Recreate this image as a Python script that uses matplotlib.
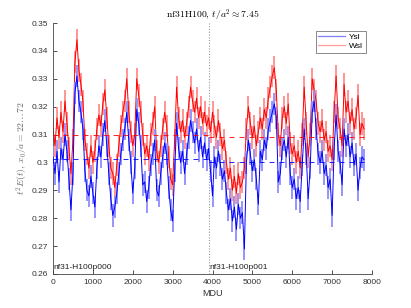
import matplotlib
matplotlib.use("Agg")
import matplotlib.pyplot as plt
import numpy as np

plt.rcParams['mathtext.fontset'] = 'cm'
plt.rcParams['font.family'] = ['Liberation Sans', 'DejaVu Sans']

mdu_step = 50
wsl = [0.312, 0.306, 0.316, 0.309, 0.318, 0.311, 0.322, 0.314, 0.305, 0.296,
       0.308, 0.336, 0.344, 0.333, 0.328, 0.322, 0.308, 0.303, 0.298, 0.306,
       0.300, 0.304, 0.312, 0.317, 0.313, 0.321, 0.326, 0.316, 0.306, 0.298,
       0.296, 0.291, 0.299, 0.306, 0.313, 0.318, 0.322, 0.330, 0.318, 0.311,
       0.306, 0.310, 0.330, 0.324, 0.318, 0.310, 0.303, 0.306, 0.301, 0.310,
       0.314, 0.320, 0.304, 0.300, 0.306, 0.312, 0.318, 0.313, 0.302, 0.294,
       0.292, 0.308, 0.327, 0.316, 0.311, 0.315, 0.309, 0.314, 0.320, 0.327,
       0.322, 0.318, 0.323, 0.316, 0.320, 0.314, 0.318, 0.313, 0.316, 0.311,
       0.318, 0.313, 0.309, 0.315, 0.310, 0.305, 0.308, 0.300, 0.294, 0.298,
       0.290, 0.295, 0.289, 0.296, 0.291, 0.293, 0.298, 0.312, 0.320, 0.314,
       0.309, 0.313, 0.306, 0.311, 0.316, 0.312, 0.319, 0.316, 0.323, 0.327,
       0.331, 0.334, 0.326, 0.310, 0.306, 0.316, 0.320, 0.314, 0.321, 0.307,
       0.303, 0.306, 0.300, 0.304, 0.298, 0.310, 0.327, 0.314, 0.302, 0.310,
       0.330, 0.326, 0.322, 0.314, 0.311, 0.315, 0.308, 0.311, 0.304, 0.306,
       0.301, 0.318, 0.331, 0.316, 0.312, 0.306, 0.328, 0.318, 0.322, 0.314,
       0.319, 0.312, 0.316, 0.324, 0.310, 0.314, 0.312]
ysl = [0.302, 0.296, 0.304, 0.293, 0.305, 0.301, 0.310, 0.304, 0.294, 0.283,
       0.296, 0.325, 0.331, 0.322, 0.318, 0.312, 0.297, 0.290, 0.288, 0.295,
       0.289, 0.284, 0.298, 0.306, 0.302, 0.310, 0.315, 0.306, 0.296, 0.287,
       0.281, 0.284, 0.289, 0.296, 0.303, 0.308, 0.312, 0.318, 0.308, 0.300,
       0.289, 0.298, 0.319, 0.314, 0.306, 0.292, 0.293, 0.286, 0.291, 0.299,
       0.303, 0.308, 0.290, 0.288, 0.296, 0.302, 0.307, 0.303, 0.291, 0.283,
       0.279, 0.297, 0.314, 0.305, 0.300, 0.304, 0.296, 0.303, 0.309, 0.315,
       0.311, 0.307, 0.312, 0.304, 0.309, 0.302, 0.307, 0.301, 0.305, 0.297,
       0.288, 0.302, 0.298, 0.304, 0.299, 0.294, 0.297, 0.289, 0.283, 0.287,
       0.279, 0.284, 0.276, 0.285, 0.280, 0.282, 0.269, 0.300, 0.308, 0.303,
       0.297, 0.301, 0.294, 0.285, 0.304, 0.301, 0.308, 0.305, 0.312, 0.315,
       0.318, 0.321, 0.316, 0.293, 0.296, 0.305, 0.308, 0.302, 0.309, 0.296,
       0.291, 0.294, 0.287, 0.291, 0.286, 0.299, 0.312, 0.303, 0.287, 0.298,
       0.318, 0.322, 0.312, 0.303, 0.300, 0.304, 0.296, 0.299, 0.291, 0.294,
       0.281, 0.305, 0.317, 0.304, 0.300, 0.292, 0.312, 0.306, 0.310, 0.302,
       0.307, 0.299, 0.303, 0.290, 0.298, 0.302, 0.301]
err_wsl = 0.004
err_ysl = 0.004

ens_labels = ["nf31-H100p000", "nf31-H100p001"]
ens_start = [0, 3920]
ens_end = [3920, 7840]
mean_wsl = [0.3100, 0.3090]
mean_ysl = [0.3011, 0.3001]

mdu = np.arange(len(wsl)) * mdu_step

fig = plt.figure(figsize=(4.11, 3.08), dpi=100)
ax = fig.add_axes([53/411, 34/308, 319/411, 251/308])

ax.errorbar(mdu, ysl, yerr=err_ysl, color='#0000ff', ecolor='#8c8cff', lw=0.7,
            elinewidth=1.3, capsize=0, zorder=3)
ax.errorbar(mdu, wsl, yerr=err_wsl, color='#ff0000', ecolor='#ff8c8c', lw=0.7,
            elinewidth=1.3, capsize=0, zorder=2)

for s, e, mw, my in zip(ens_start, ens_end, mean_wsl, mean_ysl):
    ax.plot([s, e], [mw, mw], color='#ff0000', lw=0.6, ls=(0, (6, 6)), zorder=4)
    ax.plot([s, e], [my, my], color='#0000ff', lw=0.6, ls=(0, (6, 6)), zorder=4)

ax.axvline(ens_start[1], color='#999999', lw=0.8, ls=(0, (1, 1.5)), zorder=1)
for s, lab in zip(ens_start, ens_labels):
    ax.text(s, 0.2625, lab, fontsize=6, color='#222222', ha='left', va='center')

ax.set_xlim(0, 8000)
ax.set_ylim(0.26, 0.35)
ax.set_xticks(np.arange(0, 8001, 1000))
ax.set_yticks(np.arange(0.26, 0.3501, 0.01))
ax.set_yticklabels(["0.26", "0.27", "0.28", "0.29", "0.3", "0.31", "0.32",
                    "0.33", "0.34", "0.35"])
ax.tick_params(direction='in', labelsize=6, colors='#333333', length=3, width=0.6)
for sp in ['top', 'right']:
    ax.spines[sp].set_visible(False)
for sp in ['left', 'bottom']:
    ax.spines[sp].set_color('#444444')
    ax.spines[sp].set_linewidth(0.6)

ax.set_xlabel("MDU", fontsize=6.5, color='#333333', labelpad=2)
ax.set_ylabel(r"$t^2E(t),\, x_0/a = 22 \ldots 72$", fontsize=7, color='#666666')
ax.yaxis.set_label_coords(-0.072, 0.5)
ax.set_title(r"$\mathrm{nf31H100},\, t/a^2 \approx 7.45$", fontsize=7, pad=2)

from matplotlib.lines import Line2D
handles = [Line2D([], [], color='#7f7fff', lw=0.9),
           Line2D([], [], color='#ff9a9a', lw=0.9)]
leg = ax.legend(handles, ["Ysl", "Wsl"], loc='upper right', fontsize=6,
                bbox_to_anchor=(0.98, 0.97), frameon=True, fancybox=False,
                handlelength=3.2, borderpad=0.3, labelspacing=0.2,
                handletextpad=0.5, borderaxespad=0)
leg.get_frame().set_edgecolor('#555555')
leg.get_frame().set_linewidth(0.6)

fig.savefig("out.png", dpi=100)
